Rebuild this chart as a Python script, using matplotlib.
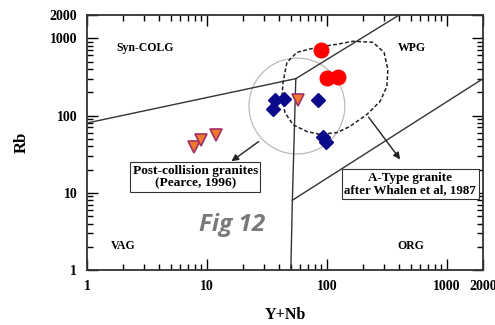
"""
Rb vs Y+Nb tectonic discrimination diagram (Pearce et al. style).
"""

import matplotlib
matplotlib.use("Agg")
import matplotlib.pyplot as plt
from matplotlib.patches import Ellipse
from matplotlib.ticker import LogLocator, FixedLocator, FixedFormatter, NullFormatter

# Sample data (Y+Nb, Rb)
red_x = [89, 100, 123]
red_y = [698, 302, 312]

blue_x = [36.9, 43.8, 35.5, 84, 92.6, 98]
blue_y = [157, 166, 123, 161, 52, 46]

orange_x = [7.8, 9.0, 12.0, 57.3]
orange_y = [39.6, 48.8, 56.7, 157]

# Field boundaries
syn_vag_x = [1, 55]
syn_vag_y = [80, 300]
syn_wpg_x = [55, 400]
syn_wpg_y = [300, 2000]
vag_wpg_x = [55, 51.5, 50]
vag_wpg_y = [300, 8, 1]
org_wpg_x = [51.5, 2000]
org_wpg_y = [8, 300]

# A-type granite field (Whalen et al., 1987)
atype_x = [42.2, 43.0, 46.4, 56.2, 82.5, 121, 165, 242, 299, 322, 316,
           277, 215, 155, 121, 87.4, 68.1, 52.1, 44.7, 42.2]
atype_y = [177, 268, 488, 658, 764, 836, 914, 887, 658, 396, 238,
           152, 103, 72, 60, 57, 62, 76, 109, 177]

tick_vals = [1, 10, 100, 1000, 2000]
tick_labels = ["1", "10", "100", "1000", "2000"]

plt.rcParams["font.family"] = ["Liberation Serif", "DejaVu Serif"]
plt.rcParams["font.weight"] = "bold"

fig = plt.figure(figsize=(4.95, 3.25), dpi=100)
ax = fig.add_axes([0.1758, 0.1692, 0.8, 0.7846])

ax.set_xscale("log")
ax.set_yscale("log")
ax.set_xlim(1, 2000)
ax.set_ylim(1, 2000)

line_kw = dict(color="#333333", lw=1.0)
ax.plot(syn_vag_x, syn_vag_y, **line_kw)
ax.plot(syn_wpg_x, syn_wpg_y, **line_kw)
ax.plot(vag_wpg_x, vag_wpg_y, **line_kw)
ax.plot(org_wpg_x, org_wpg_y, **line_kw)

ax.plot(atype_x, atype_y, color="#222222", lw=1.1, ls=(0, (2.5, 1.5)))

# post-collision field circle
ax.add_patch(Ellipse((0.53, 0.643), 0.242, 0.376, transform=ax.transAxes,
                     fill=False, ec="#bbbbbb", lw=0.9))

ax.plot(red_x, red_y, "o", color="#ff0000", ms=10.5, mec="#ff0000", zorder=5)
ax.plot(blue_x, blue_y, "D", color="#0a0a8a", ms=7.5, mec="#0a0a8a", zorder=5)
ax.plot(orange_x, orange_y, "v", color="#f07a2a", ms=9, mec="#a0306a",
        mew=1.2, zorder=5)

# Field names
lab_kw = dict(transform=ax.transAxes, fontsize=8.5, fontweight="bold",
              ha="center", va="center")
ax.text(0.146, 0.871, "Syn-COLG", **lab_kw)
ax.text(0.821, 0.871, "WPG", **lab_kw)
ax.text(0.091, 0.094, "VAG", **lab_kw)
ax.text(0.818, 0.094, "ORG", **lab_kw)

box = dict(boxstyle="square,pad=0.2", fc="white", ec="#333333", lw=0.8)
ax.text(0.273, 0.365, "Post-collision granites\n(Pearce, 1996)",
        transform=ax.transAxes, fontsize=9.6, fontweight="bold",
        ha="center", va="center", bbox=box, linespacing=1.0, zorder=6)
ax.text(0.816, 0.337, "A-Type granite\nafter Whalen et al, 1987",
        transform=ax.transAxes, fontsize=9.4, fontweight="bold",
        ha="center", va="center", bbox=box, linespacing=1.0, zorder=6)

arrow = dict(arrowstyle="-|>", color="#222222", lw=1.0, mutation_scale=10)
ax.annotate("", xy=(0.359, 0.420), xytext=(0.439, 0.510),
            xycoords="axes fraction", arrowprops=arrow)
ax.annotate("", xy=(0.795, 0.425), xytext=(0.707, 0.608),
            xycoords="axes fraction", arrowprops=arrow)

ax.text(0.366, 0.176, "Fig 12", transform=ax.transAxes, fontsize=17.5,
        fontweight="bold", fontstyle="italic", color="#7a7a7a",
        family=["Open Sans", "DejaVu Sans"], ha="center", va="center")

# Axes styling
for axis in (ax.xaxis, ax.yaxis):
    axis.set_major_locator(FixedLocator(tick_vals))
    axis.set_major_formatter(FixedFormatter(tick_labels))
    axis.set_minor_locator(LogLocator(base=10, subs=range(2, 10), numticks=20))
    axis.set_minor_formatter(NullFormatter())

ax.tick_params(which="both", direction="in", top=True, right=True,
               labelsize=10, width=1.0, pad=7)
ax.tick_params(which="major", length=8)
ax.tick_params(which="minor", length=4)
for lbl in ax.get_xticklabels() + ax.get_yticklabels():
    lbl.set_fontweight("bold")
for s in ax.spines.values():
    s.set_linewidth(1.3)
    s.set_color("#333333")

ax.set_xlabel("Y+Nb", fontsize=11.5, fontweight="bold", labelpad=10)
ax.set_ylabel("Rb", fontsize=12, fontweight="bold", labelpad=14)

plt.savefig("out.png", dpi=100)
plt.close()
